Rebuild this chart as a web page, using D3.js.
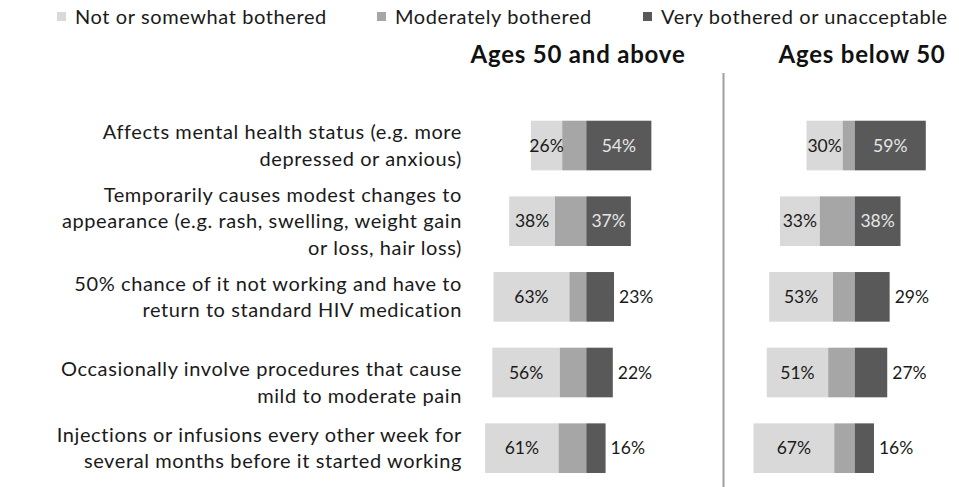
<!DOCTYPE html>
<html>
<head>
<meta charset="utf-8">
<script src="https://cdn.jsdelivr.net/npm/d3@7"></script>
<style>
  html, body { margin: 0; padding: 0; background: #fff; }
  svg text { font-family: Lato, "Open Sans", sans-serif; }
</style>
</head>
<body>
<svg id="chart" width="959" height="487"></svg>
<script>
// Survey items (each entry is one row, split into display lines)
const categories = [
  ["Affects mental health status (e.g. more", "depressed or anxious)"],
  ["Temporarily causes modest changes to", "appearance (e.g. rash, swelling, weight gain", "or loss, hair loss)"],
  ["50% chance of it not working and have to", "return to standard HIV medication"],
  ["Occasionally involve procedures that cause", "mild to moderate pain"],
  ["Injections or infusions every other week for", "several months before it started working"]
];

const seriesNames = ["Not or somewhat bothered", "Moderately bothered", "Very bothered or unacceptable"];
const panelTitles = ["Ages 50 and above", "Ages below 50"];

// Ages 50 and above (%)
const olderNotBothered = [26, 38, 63, 56, 61];
const olderModerate    = [20, 26, 14, 22, 23];
const olderVery        = [54, 37, 23, 22, 16];

// Ages below 50 (%)
const youngerNotBothered = [30, 33, 53, 51, 67];
const youngerModerate    = [10, 29, 18, 22, 17];
const youngerVery        = [59, 38, 29, 27, 16];

const colors = ["#d9d9d9", "#a6a6a6", "#595959"];

const svg = d3.select("#chart");

// Legend
const legendX = [57, 377, 643];
const legend = svg.append("g");
seriesNames.forEach((name, i) => {
  legend.append("rect")
    .attr("x", legendX[i]).attr("y", 12).attr("width", 9).attr("height", 9)
    .attr("fill", colors[i]);
  legend.append("text")
    .attr("x", legendX[i] + 18).attr("y", 24)
    .attr("font-size", 20).attr("letter-spacing", 0.6).attr("fill", "#1a1a1a")
    .text(name);
});

// Rows
const y = d3.scaleBand()
  .domain(d3.range(categories.length))
  .range([107.7, 486])
  .paddingInner(0.344)
  .paddingOuter(0.172);

// Row labels, right aligned, block centred on the bar
const labelShift = [0, 0, 0, 10, 0];
const lineH = 26.5;
const labels = svg.append("g");
categories.forEach((lines, i) => {
  const cy = y(i) + y.bandwidth() / 2 + labelShift[i];
  const t = labels.append("text")
    .attr("text-anchor", "end")
    .attr("font-size", 20)
    .attr("letter-spacing", 0.6)
    .attr("fill", "#1a1a1a");
  lines.forEach((ln, j) => {
    t.append("tspan")
      .attr("x", 462)
      .attr("y", cy + (j - (lines.length - 1) / 2) * lineH + 7)
      .text(ln);
  });
});

// Panels: stacked bars diverging from the moderate/very boundary
const panels = [
  { title: panelTitles[0], center: 586.3, titleX: 578,
    data: [olderNotBothered, olderModerate, olderVery] },
  { title: panelTitles[1], center: 854.7, titleX: 862,
    data: [youngerNotBothered, youngerModerate, youngerVery] }
];

const unit = 1.205; // px per percentage point

panels.forEach(p => {
  const x = d3.scaleLinear()
    .domain([-100, 100])
    .range([p.center - 100 * unit, p.center + 100 * unit]);

  const g = svg.append("g");

  g.append("text")
    .attr("x", p.titleX).attr("y", 63)
    .attr("text-anchor", "middle")
    .attr("font-size", 24).attr("font-weight", "bold")
    .attr("letter-spacing", 0.8)
    .attr("fill", "#111")
    .text(p.title);

  const rows = categories.map((_, i) => ({
    i,
    not: p.data[0][i],
    mod: p.data[1][i],
    very: p.data[2][i]
  }));

  rows.forEach(r => {
    const segs = [
      { x0: -(r.not + r.mod), x1: -r.mod, c: colors[0] },
      { x0: -r.mod, x1: 0, c: colors[1] },
      { x0: 0, x1: r.very, c: colors[2] }
    ];
    g.selectAll(null).data(segs).enter().append("rect")
      .attr("x", d => x(d.x0))
      .attr("y", y(r.i))
      .attr("width", d => x(d.x1) - x(d.x0))
      .attr("height", y.bandwidth())
      .attr("fill", d => d.c);

    const cy = y(r.i) + y.bandwidth() / 2 + 6;

    // "Not bothered" label inside the light segment
    g.append("text")
      .attr("x", (x(-(r.not + r.mod)) + x(-r.mod)) / 2)
      .attr("y", cy)
      .attr("text-anchor", "middle")
      .attr("font-size", 17.5).attr("fill", "#1a1a1a")
      .text(r.not + "%");

    // "Very bothered" label: inside when the segment is wide, else outside
    const inside = x(r.very) - x(0) > 40;
    g.append("text")
      .attr("x", inside ? (x(0) + x(r.very)) / 2 : x(r.very) + 5)
      .attr("y", cy)
      .attr("text-anchor", inside ? "middle" : "start")
      .attr("font-size", 17.5)
      .attr("fill", inside ? "#e6e6e6" : "#1a1a1a")
      .text(r.very + "%");
  });
});

// Divider between the two age groups
svg.append("line")
  .attr("x1", 723.5).attr("x2", 723.5)
  .attr("y1", 73).attr("y2", 487)
  .attr("stroke", "#a0a0a0").attr("stroke-width", 2);
</script>
</body>
</html>
